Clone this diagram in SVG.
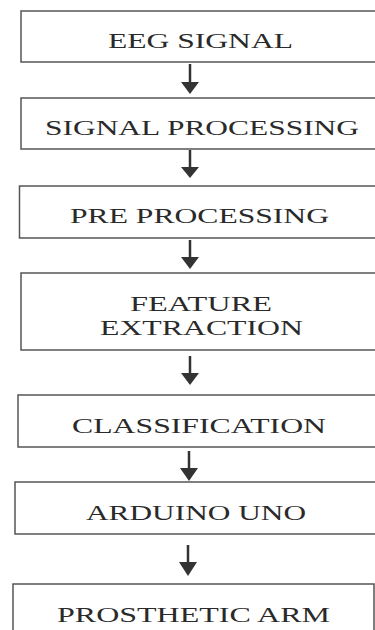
<svg xmlns="http://www.w3.org/2000/svg" width="375" height="630" viewBox="0 0 375 630">
<style>
.box{fill:#fff;stroke:#555;stroke-width:1.5}
.lbl{font-family:"Liberation Serif","Times New Roman",serif;font-size:21.5px;fill:#2a2a2a}
.ln{stroke:#333;stroke-width:2.5;fill:none}
.hd{fill:#333}
</style>
<rect width="375" height="630" fill="#fff"/>
<g id="n1"><rect class="box" x="21" y="11" width="360" height="51"/><text class="lbl" x="108" y="48" textLength="185" lengthAdjust="spacingAndGlyphs">EEG SIGNAL</text></g>
<g id="n2"><rect class="box" x="21" y="98" width="360" height="51"/><text class="lbl" x="45" y="135" textLength="314" lengthAdjust="spacingAndGlyphs">SIGNAL PROCESSING</text></g>
<g id="n3"><rect class="box" x="19.5" y="186" width="362" height="52"/><text class="lbl" x="70" y="223" textLength="259" lengthAdjust="spacingAndGlyphs">PRE PROCESSING</text></g>
<g id="n4"><rect class="box" x="21" y="273" width="360" height="77"/><text class="lbl" x="130" y="311" textLength="142" lengthAdjust="spacingAndGlyphs">FEATURE</text><text class="lbl" x="100" y="335" textLength="203" lengthAdjust="spacingAndGlyphs">EXTRACTION</text></g>
<g id="n5"><rect class="box" x="18" y="395" width="363" height="52"/><text class="lbl" x="72" y="433" textLength="254" lengthAdjust="spacingAndGlyphs">CLASSIFICATION</text></g>
<g id="n6"><rect class="box" x="15" y="482" width="366" height="52"/><text class="lbl" x="86" y="520" textLength="220" lengthAdjust="spacingAndGlyphs">ARDUINO UNO</text></g>
<g id="n7"><rect class="box" x="13" y="584" width="361" height="60"/><text class="lbl" x="57" y="622" textLength="273" lengthAdjust="spacingAndGlyphs">PROSTHETIC ARM</text></g>
<g id="connectors">
<line class="ln" x1="190" y1="64" x2="190" y2="83"/><polygon class="hd" points="181,82 199,82 190,94"/>
<line class="ln" x1="190" y1="150" x2="190" y2="168"/><polygon class="hd" points="181,167 199,167 190,178"/>
<line class="ln" x1="190" y1="240" x2="190" y2="258"/><polygon class="hd" points="181,257 199,257 190,269"/>
<line class="ln" x1="190" y1="356" x2="190" y2="374"/><polygon class="hd" points="181,373 199,373 190,385"/>
<line class="ln" x1="189" y1="451" x2="189" y2="469"/><polygon class="hd" points="180,468 198,468 189,481"/>
<line class="ln" x1="188" y1="545" x2="188" y2="563"/><polygon class="hd" points="179,562 197,562 188,576"/>
</g>
</svg>
